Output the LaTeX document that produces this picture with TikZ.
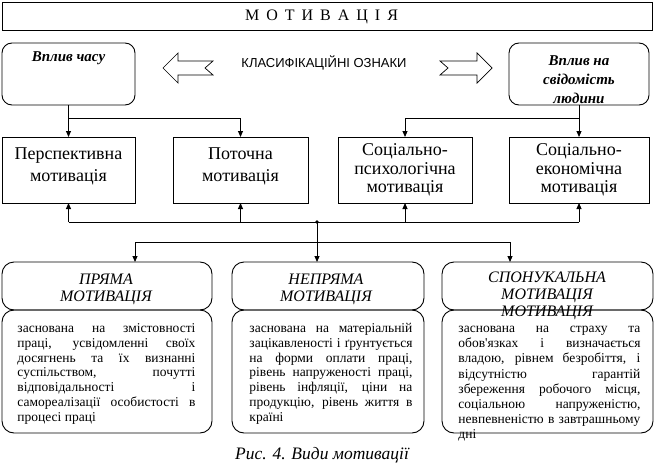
\documentclass[tikz,border=0pt]{standalone}
\usepackage{fontspec}
\setmainfont{Liberation Serif}
\newfontfamily\sansf{Liberation Sans}
\usetikzlibrary{arrows.meta}
\newcommand\jline[1]{\makebox[\linewidth][s]{#1}\par}
\begin{document}
\begin{tikzpicture}[x=1pt,y=-1pt,line width=0.9pt,
  arr/.style={-{Triangle[width=5pt,length=6pt]}},
  sbox/.style={draw,inner sep=0pt,outer sep=0pt,anchor=north west,minimum height=66pt},
  rbox/.style={draw,rounded corners=10pt,inner sep=0pt,outer sep=0pt,anchor=north west,minimum height=62pt},
  hbox/.style={draw,rounded corners=12pt,inner sep=0pt,outer sep=0pt,anchor=north west,minimum height=48pt},
  dbox/.style={draw,rounded corners=12pt,inner sep=0pt,outer sep=0pt,anchor=north west,minimum height=123pt},
  toptext/.style={inner sep=0pt,align=center,font=\bfseries\itshape\fontsize{15}{19}\selectfont},
  boxtext/.style={inner sep=0pt,align=center,font=\fontsize{18}{21.7}\selectfont},
  boxtextc/.style={inner sep=0pt,align=center,font=\fontsize{18}{18.7}\selectfont},
  headtext/.style={inner sep=0pt,align=center,font=\itshape\fontsize{16}{17}\selectfont},
  bodytext/.style={inner sep=0pt,anchor=base west},
  hollow/.style={line width=0.7pt,fill=white}]
\useasboundingbox (0,0) rectangle (655,468);
\fill[white] (0,0) rectangle (655,468);

% title
\node[sbox,minimum width=650pt,minimum height=28pt] (title) at (2,2) {};
\node[inner sep=0pt,font=\fontsize{16}{18}\selectfont] (titlet) at (321.5,17)
  {М\hspace{7pt}О\hspace{7pt}Т\hspace{7pt}И\hspace{7pt}В\hspace{7pt}А\hspace{7pt}Ц\hspace{7pt}І\hspace{7pt}Я};

% top boxes
\node[rbox,minimum width=133pt] (topL) at (2,43) {};
\node[toptext] (topLt) at (68.5,58) {Вплив часу};
\node[rbox,minimum width=140pt] (topR) at (509,43) {};
\node[toptext] (topRt) at (579,80) {Вплив на\\свідомість\\людини};

% classification text and hollow arrows
\node[inner sep=0pt,font=\sansf\fontsize{13}{15}\selectfont] (cls) at (324,63) {КЛАСИФІКАЦІЙНІ ОЗНАКИ};
\draw[hollow] (163,68) -- (178,53) -- (178,61) -- (213,61) -- (205,68) -- (213,75) -- (178,75) -- (178,83) -- cycle;
\draw[hollow] (492,68) -- (477,53) -- (477,61) -- (440,61) -- (448,68) -- (440,75) -- (477,75) -- (477,83) -- cycle;

% four boxes
\node[sbox,minimum width=133pt] (b1) at (2,137) {};
\node[sbox,minimum width=135pt] (b2) at (173,137) {};
\node[sbox,minimum width=134pt] (b3) at (338,137) {};
\node[sbox,minimum width=140pt] (b4) at (509,137) {};
\node[boxtext] (b1t) at (68.5,166) {Перспективна\\мотивація};
\node[boxtext] (b2t) at (240.5,166) {Поточна\\мотивація};
\node[boxtextc] (b3t) at (405,170) {Соціально-\\психологічна\\мотивація};
\node[boxtextc] (b4t) at (579,170) {Соціально-\\економічна\\мотивація};

% top connectors
\coordinate (jL) at (68.5,118);
\coordinate (jR) at (579,118);
\draw[arr] (topL.south) -- (b1.north);
\draw[arr] (jL) -| (b2.north);
\draw[arr] (topR.south) -- (b4.north);
\draw[arr] (jR) -| (b3.north);

% header and body boxes
\node[hbox,minimum width=210pt] (h1) at (2,262) {};
\node[hbox,minimum width=192pt] (h2) at (232,262) {};
\node[hbox,minimum width=211pt] (h3) at (442,262) {};
\node[dbox,minimum width=210pt] (d1) at (2,310) {};
\node[dbox,minimum width=192pt] (d2) at (232,310) {};
\node[dbox,minimum width=211pt] (d3) at (442,310) {};

% bus connectors
\coordinate (bus) at (317,222);
\draw (b1.south |- bus) -- (b4.south |- bus);
\draw[arr] (b1.south |- bus) -- (b1.south);
\draw[arr] (b2.south |- bus) -- (b2.south);
\draw[arr] (b3.south |- bus) -- (b3.south);
\draw[arr] (b4.south |- bus) -- (b4.south);
\fill (bus) circle (1.8pt);
\coordinate (busL) at (135,242);
\coordinate (busR) at (510,242);
\draw (busL) -- (busR);
\draw[arr] (busL) -- (busL |- h1.north);
\draw[arr] (busR) -- (busR |- h3.north);
\draw[arr] (bus) -- (bus |- h2.north);

% header texts
\node[headtext] (h1t) at (106,289) {ПРЯМА\\МОТИВАЦІЯ};
\node[headtext] (h2t) at (326,289) {НЕПРЯМА\\МОТИВАЦІЯ};
\node[headtext] (h3t) at (547,296) {СПОНУКАЛЬНА\\МОТИВАЦІЯ\\МОТИВАЦІЯ};

% body texts
\node[bodytext] (d1t) at (17,332.5) {\parbox[t]{178pt}{\fontsize{13.5}{14.8}\selectfont
\jline{заснована на змістовності}
\jline{праці, усвідомленні своїх}
\jline{досягнень та їх визнанні}
\jline{суспільством, почутті}
\jline{відповідальності і}
\jline{самореалізації особистості в}
процесі праці}};
\node[bodytext] (d2t) at (249,332.5) {\parbox[t]{163pt}{\fontsize{13.5}{14.8}\selectfont
\jline{заснована на матеріальній}
\jline{зацікавленості і ґрунтується}
\jline{на форми оплати праці,}
\jline{рівень напруженості праці,}
\jline{рівень інфляції, ціни на}
\jline{продукцію, рівень життя в}
країні}};
\node[bodytext] (d3t) at (458,332.5) {\parbox[t]{182pt}{\fontsize{13.5}{15.2}\selectfont
\jline{заснована на страху та}
\jline{обов\textquotesingle язках і визначається}
\jline{владою, рівнем безробіття, і}
\jline{відсутністю гарантій}
\jline{збереження робочого місця,}
\jline{соціальною напруженістю,}
\jline{невпевненістю в завтрашньому}
дні}};

% caption
\node[inner sep=0pt,font=\itshape\fontsize{17.5}{20}\selectfont] (cap) at (322,455) {Рис. 4. Види мотивації};
\end{tikzpicture}
\end{document}
